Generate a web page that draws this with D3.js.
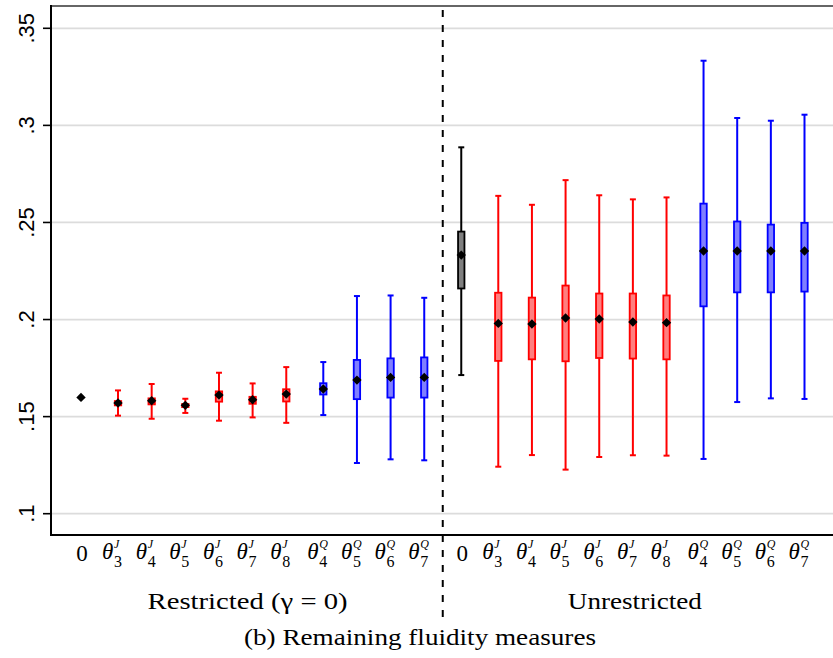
<!DOCTYPE html>
<html><head><meta charset="utf-8">
<script src="https://cdn.jsdelivr.net/npm/d3@7"></script>
<style>body{margin:0;background:#fff}svg{display:block}</style>
</head><body>
<svg id="c" width="833" height="658"></svg>
<script>
// ---------- data ----------
const panels = ["Restricted (\u03B3 = 0)", "Unrestricted"];
const catKinds = ["zero","J","J","J","J","J","J","Q","Q","Q","Q"];
const catSubs  = ["", "3","4","5","6","7","8","4","5","6","7"];
const yTicks = [0.1, 0.15, 0.2, 0.25, 0.3, 0.35];
const yTickLabels = [".1", ".15", ".2", ".25", ".3", ".35"];

// Restricted (gamma = 0)
const resLow  = [null, 0.1505,0.1489,0.1519,0.1479,0.1496,0.1468, 0.1508,0.1261,0.1280,0.1275];
const resQ1   = [null, 0.1558,0.1563,0.1549,0.1577,0.1566,0.1578, 0.1614,0.1590,0.1598,0.1598];
const resMean = [0.1599, 0.1570,0.1582,0.1558,0.1611,0.1587,0.1616, 0.1642,0.1688,0.1702,0.1702];
const resQ3   = [null, 0.1580,0.1594,0.1565,0.1630,0.1602,0.1641, 0.1672,0.1792,0.1800,0.1805];
const resHigh = [null, 0.1635,0.1668,0.1592,0.1726,0.1671,0.1755, 0.1781,0.2121,0.2124,0.2112];

// Unrestricted
const unrLow  = [0.1714, 0.1242,0.1302,0.1227,0.1292,0.1301,0.1299, 0.1282,0.1575,0.1594,0.1591];
const unrQ1   = [0.2160, 0.1787,0.1795,0.1785,0.1802,0.1799,0.1795, 0.2068,0.2140,0.2140,0.2144];
const unrMean = [0.2332, 0.1980,0.1977,0.2008,0.2003,0.1987,0.1984, 0.2353,0.2353,0.2353,0.2353];
const unrQ3   = [0.2453, 0.2138,0.2113,0.2175,0.2134,0.2134,0.2124, 0.2597,0.2505,0.2489,0.2498];
const unrHigh = [0.2887, 0.2637,0.2591,0.2718,0.2640,0.2619,0.2629, 0.3333,0.3038,0.3024,0.3055];

const caption = "(b) Remaining fluidity measures";

// ---------- layout ----------
const svg = d3.select("#c");
const L = 51, T = 6, B = 535;
const y = d3.scaleLinear().domain([0.1, 0.35]).range([513.7, 28.3]);

const series = [
  {low: resLow, q1: resQ1, mean: resMean, q3: resQ3, high: resHigh},
  {low: unrLow, q1: unrQ1, mean: unrMean, q3: unrQ3, high: unrHigh}
];
const items = [];
let gap = -1, prev = null, idx = 0;
series.forEach((s, p) => {
  catKinds.forEach((k, i) => {
    const key = p + k;
    if (key !== prev) { gap++; prev = key; }
    items.push({panel: p, kind: k, sub: catSubs[i], slot: idx + 0.1 * gap,
      low: s.low[i], q1: s.q1[i], mean: s.mean[i], q3: s.q3[i], high: s.high[i]});
    idx++;
  });
});
const x = d3.scaleLinear().domain([0, 21.5]).range([81, 804.5]);

const color = {zero: "#000000", J: "#ff0000", Q: "#0000ff"};
const fill  = {zero: "#7f7f7f", J: "#ff7f7f", Q: "#7f7fff"};

svg.append("clipPath").attr("id","clip").append("rect")
  .attr("x", L).attr("y", T).attr("width", 833 - L).attr("height", B - T);

// gridlines
svg.append("g").selectAll("line").data(yTicks).join("line")
  .attr("x1", L).attr("x2", 833)
  .attr("y1", d => y(d)).attr("y2", d => y(d))
  .attr("stroke", "#dcdcdc").attr("stroke-width", 1.8);

// top border
svg.append("line").attr("x1", L).attr("x2", 833).attr("y1", T).attr("y2", T)
  .attr("stroke", "#333").attr("stroke-width", 1.6);

// dashed separator
const sepX = x(10.75);
svg.append("line").attr("x1", sepX).attr("x2", sepX).attr("y1", T + 4).attr("y2", 617)
  .attr("stroke", "#000").attr("stroke-width", 2).attr("stroke-dasharray", "7,8");

// boxes
const g = svg.append("g").attr("clip-path", "url(#clip)");
const withBox = items.filter(d => d.low !== null);
const bw = 6.4, cw = 6;

g.selectAll(".wh").data(withBox).join("line")
  .attr("x1", d => x(d.slot)).attr("x2", d => x(d.slot))
  .attr("y1", d => y(d.low)).attr("y2", d => y(d.high))
  .attr("stroke", d => color[d.kind]).attr("stroke-width", 2);
["low","high"].forEach(k => {
  g.selectAll(".cap" + k).data(withBox).join("line")
    .attr("x1", d => x(d.slot) - cw / 2).attr("x2", d => x(d.slot) + cw / 2)
    .attr("y1", d => y(d[k])).attr("y2", d => y(d[k]))
    .attr("stroke", d => color[d.kind]).attr("stroke-width", 2);
});
g.selectAll(".box").data(withBox).join("rect")
  .attr("x", d => x(d.slot) - bw / 2).attr("width", bw)
  .attr("y", d => y(d.q3)).attr("height", d => Math.max(0.5, y(d.q1) - y(d.q3)))
  .attr("fill", d => fill[d.kind]).attr("stroke", d => color[d.kind]).attr("stroke-width", 1.8);
g.selectAll(".med").data(withBox).join("line")
  .attr("x1", d => x(d.slot) - bw / 2).attr("x2", d => x(d.slot) + bw / 2)
  .attr("y1", d => y(d.mean)).attr("y2", d => y(d.mean))
  .attr("stroke", "#000").attr("stroke-width", 1.5);
const diamond = d3.symbol().type(d3.symbolSquare).size(44);
g.selectAll(".mean").data(items).join("path")
  .attr("d", diamond)
  .attr("transform", d => `translate(${x(d.slot)},${y(d.mean)}) rotate(45)`)
  .attr("fill", "#000");

// axes lines
svg.append("line").attr("x1", L).attr("x2", L).attr("y1", T - 1).attr("y2", B + 1)
  .attr("stroke", "#000").attr("stroke-width", 2);
svg.append("line").attr("x1", L - 1).attr("x2", 833).attr("y1", B).attr("y2", B)
  .attr("stroke", "#000").attr("stroke-width", 2);

// y ticks + labels
const yAxis = svg.append("g");
yAxis.selectAll("line").data(yTicks).join("line")
  .attr("x1", 43).attr("x2", L).attr("y1", d => y(d)).attr("y2", d => y(d))
  .attr("stroke", "#000").attr("stroke-width", 1.6);
yAxis.selectAll("text").data(yTicks).join("text")
  .attr("transform", d => `translate(34,${y(d)}) rotate(-90)`)
  .attr("text-anchor", "middle")
  .attr("font-family", "Liberation Sans, Arial, sans-serif").attr("font-size", 22)
  .text((d, i) => yTickLabels[i]);

// x tick labels
const serif = "Liberation Serif, Times New Roman, serif";
const xl = svg.append("g").attr("font-family", serif);
items.forEach(d => {
  const cx = x(d.slot);
  if (d.kind === "zero") {
    xl.append("text").attr("x", cx + 1).attr("y", 561).attr("text-anchor", "middle")
      .attr("font-size", 23).text("0");
  } else {
    xl.append("text").attr("x", cx - 16).attr("y", 559).attr("font-size", 23)
      .attr("font-style", "italic").text("\u03B8");
    xl.append("text").attr("x", cx - 4).attr("y", 567).attr("font-size", 16).text(d.sub);
    xl.append("text").attr("x", cx - 4).attr("y", 548).attr("font-size", 12)
      .attr("font-style", "italic").text(d.kind);
  }
});

// panel labels
const panelW = [200, 134];
panels.forEach((p, i) => {
  const ps = items.filter(d => d.panel === i);
  const c = (x(ps[0].slot) + x(ps[ps.length - 1].slot)) / 2 + (i === 0 ? -5 : 2);
  svg.append("text").attr("x", c).attr("y", 609).attr("text-anchor", "middle")
    .attr("font-family", serif).attr("font-size", 24)
    .attr("textLength", panelW[i]).attr("lengthAdjust", "spacingAndGlyphs")
    .text(p);
});

svg.append("text").attr("x", 420).attr("y", 645).attr("text-anchor", "middle")
  .attr("font-family", serif).attr("font-size", 24)
  .attr("textLength", 352).attr("lengthAdjust", "spacingAndGlyphs")
  .text(caption);
</script>
</body></html>
